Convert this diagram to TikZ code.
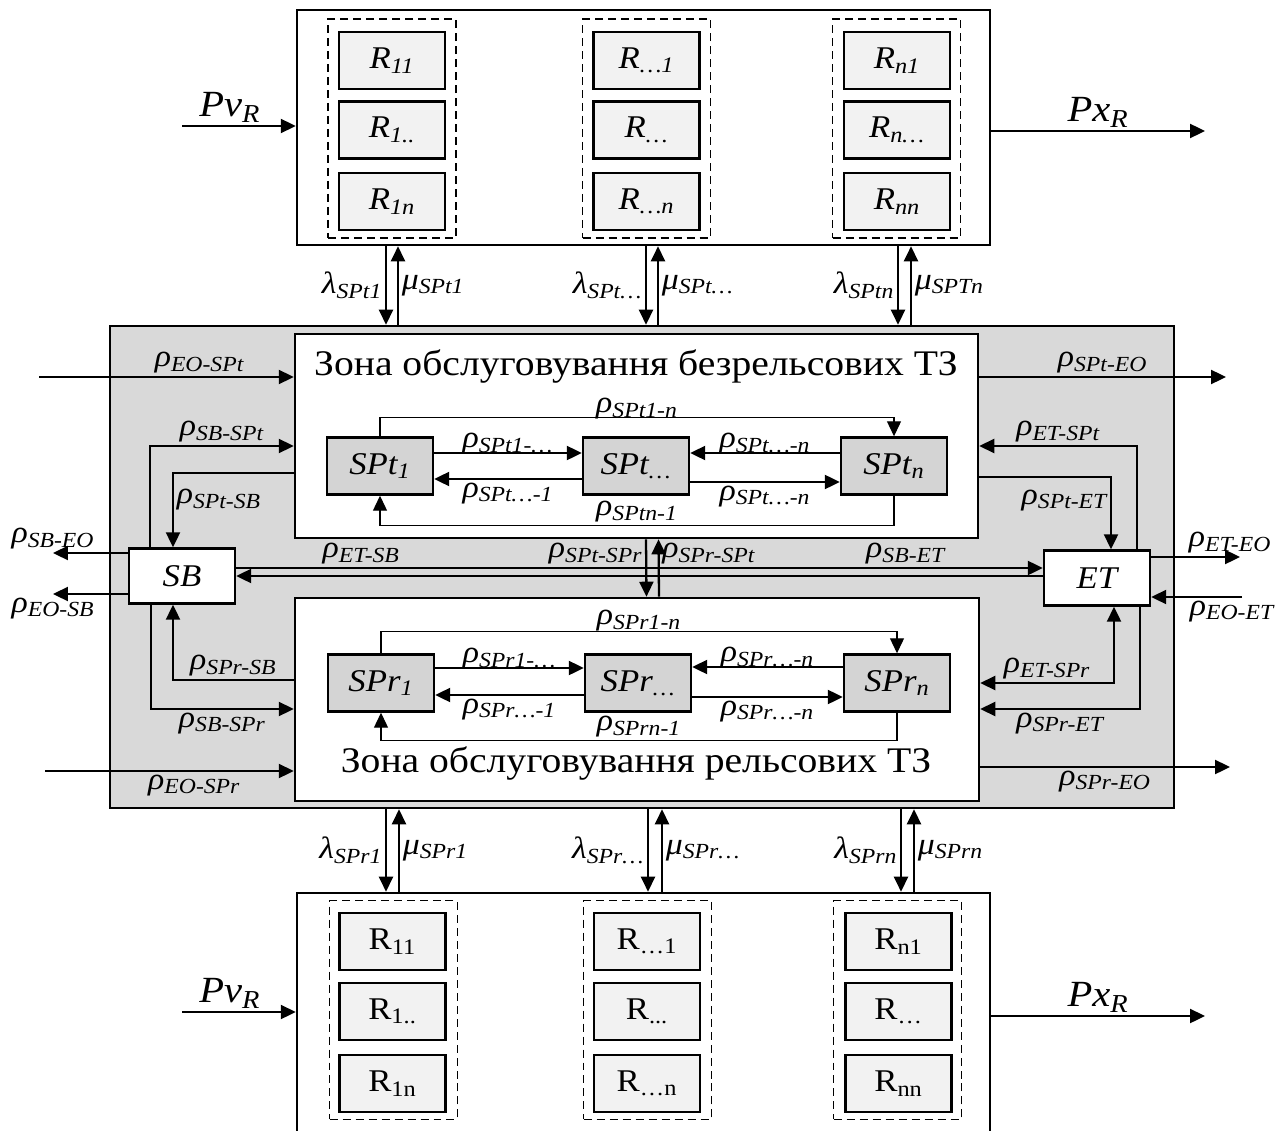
\documentclass[tikz,border=0pt]{standalone}
\usepackage{fontspec}
\setmainfont{Liberation Serif}[FakeStretch=1.1]
\usetikzlibrary{arrows.meta,calc}

\newcommand{\rsub}[1]{ρ\textsubscript{#1}}
\newcommand{\lsub}[1]{λ\textsubscript{#1}}
\newcommand{\msub}[1]{μ\textsubscript{#1}}

\begin{document}
\begin{tikzpicture}[x=0.02cm,y=-0.02cm,
  frame/.style={draw,line width=1.5pt,inner sep=0pt},
  rt/.style={draw,line width=1.4pt,fill=black!5,inner sep=0pt,
             minimum width=2.12cm,minimum height=1.14cm,
             font=\fontsize{18}{21}\selectfont\itshape},
  rb/.style={rt,font=\fontsize{18}{21}\selectfont},
  spbox/.style={rt,fill=black!17},
  unit/.style={rt,fill=white,minimum height=1.1cm},
  col/.style={draw,line width=0.8pt,dash pattern=on 1.6mm off 1mm,
              minimum width=2.56cm,minimum height=4.38cm},
  ev/.style={-{Triangle[length=3mm,width=2.8mm]},line width=1.3pt},
  evb/.style={ev,{Triangle[length=3mm,width=2.8mm]}-{Triangle[length=3mm,width=2.8mm]}},
  thin/.style={ev,line width=0.7pt},
  lab/.style={font=\fontsize{17.5}{20}\selectfont\itshape,inner sep=1.5pt},
  pv/.style={lab,font=\fontsize{21}{24}\selectfont\itshape},
  big/.style={font=\fontsize{20.5}{24}\selectfont}]

  \useasboundingbox (0,0) rectangle (1283,1131);

  % service area
  \node[frame,fill=black!15,minimum width=21.28cm,minimum height=9.64cm] (mid) at (642,567) {};
  \node[frame,fill=white,minimum width=13.66cm,minimum height=4.08cm] (inT) at (636.5,436) {};
  \node[frame,fill=white,minimum width=13.68cm,minimum height=4.06cm] (inR) at (637,699.5) {};
  \node[big] (titT) at (636,366) {Зона обслуговування безрельсових ТЗ};
  \node[big] (titR) at (636,763) {Зона обслуговування рельсових ТЗ};

  \node[spbox] (SPt1) at (380,466) {SPt\textsubscript{1}};
  \node[spbox] (SPtm) at (636,466) {SPt\textsubscript{…}};
  \node[spbox] (SPtn) at (894,466) {SPt\textsubscript{n}};
  \node[spbox] (SPr1) at (381,683) {SPr\textsubscript{1}};
  \node[spbox] (SPrm) at (638,683) {SPr\textsubscript{…}};
  \node[spbox] (SPrn) at (897,683) {SPr\textsubscript{n}};
  \node[unit] (SB) at (182,576) {SB};
  \node[unit] (ET) at (1097,578) {ET};

  % flows inside the wheeled zone
  \draw[thin] (SPt1.north) -- ++(0,-19) -| (SPtn.north)
     node[lab,above,pos=0.25,yshift=-0.1cm] (a1) {\rsub{SPt1-n}};
  \draw[ev] ([yshift=0.26cm]SPt1.east) -- ([yshift=0.26cm]SPtm.west)
     node[lab,above,midway,yshift=-0.1cm] (a2) {\rsub{SPt1-…}};
  \draw[ev] ([yshift=-0.26cm]SPtm.west) -- ([yshift=-0.26cm]SPt1.east)
     node[lab,below,midway] (a3) {\rsub{SPt…-1}};
  \draw[ev] ([yshift=0.26cm]SPtn.west) -- ([yshift=0.26cm]SPtm.east)
     node[lab,above,midway,yshift=-0.1cm] (a4) {\rsub{SPt…-n}};
  \draw[ev] ([yshift=-0.32cm]SPtm.east) -- ([yshift=-0.32cm]SPtn.west)
     node[lab,below,midway] (a5) {\rsub{SPt…-n}};
  \draw[thin] (SPtn.south) -- ++(0,30) -| (SPt1.south)
     node[lab,above,pos=0.25] (a6) {\rsub{SPtn-1}};

  % flows inside the rail zone
  \draw[thin] (SPr1.north) -- ++(0,-22) -| (SPrn.north)
     node[lab,above,pos=0.25,yshift=-0.06cm] (b1) {\rsub{SPr1-n}};
  \draw[ev] ([yshift=0.3cm]SPr1.east) -- ([yshift=0.3cm]SPrm.west)
     node[lab,above,midway,yshift=-0.1cm] (b2) {\rsub{SPr1-…}};
  \draw[ev] ([yshift=-0.24cm]SPrm.west) -- ([yshift=-0.24cm]SPr1.east)
     node[lab,below,midway] (b3) {\rsub{SPr…-1}};
  \draw[ev] ([yshift=0.32cm]SPrn.west) -- ([yshift=0.32cm]SPrm.east)
     node[lab,above,midway,yshift=-0.1cm] (b4) {\rsub{SPr…-n}};
  \draw[ev] ([yshift=-0.28cm]SPrm.east) -- ([yshift=-0.28cm]SPrn.west)
     node[lab,below,midway] (b5) {\rsub{SPr…-n}};
  \draw[thin] (SPrn.south) -- ++(0,28) -| (SPr1.south)
     node[lab,above,pos=0.25] (b6) {\rsub{SPrn-1}};

  % left side
  \coordinate (eoA) at (39,377);
  \coordinate (eoB) at (45,771);
  \coordinate (sbeo) at (53,553);
  \coordinate (eosb) at (53,594);
  \draw[ev] (eoA) -- (eoA -| inT.west)
     node[lab,above,pos=0.63] (l1) {\rsub{EO-SPt}};
  \draw[ev] ([xshift=-0.64cm]SB.north) |- ([yshift=-0.2cm]inT.west)
     node[lab,above,pos=0.75] (l2) {\rsub{SB-SPt}};
  \draw[ev] ([yshift=-0.74cm]inT.west) -| ([xshift=-0.18cm]SB.north)
     node[lab,right,pos=0.68] (l3) {\rsub{SPt-SB}};
  \draw[ev] (sbeo -| SB.west) -- (sbeo) node[lab,above] (l4) {\rsub{SB-EO}};
  \draw[ev] (eosb -| SB.west) -- (eosb) node[lab,below] (l5) {\rsub{EO-SB}};
  \draw[ev] ([xshift=-0.62cm]SB.south) |- ([yshift=-0.19cm]inR.west)
     node[lab,below,pos=0.75] (l6) {\rsub{SB-SPr}};
  \draw[ev] ([yshift=0.39cm]inR.west) -| ([xshift=-0.18cm]SB.south)
     node[lab,above,pos=0.25] (l7) {\rsub{SPr-SB}};
  \draw[ev] (eoB) -- (eoB -| inR.west)
     node[lab,below,pos=0.6] (l8) {\rsub{EO-SPr}};

  % between SB and ET
  \coordinate (sbet) at (0,568);
  \coordinate (etsb) at (0,576);
  \draw[ev] (sbet -| SB.east) -- (sbet -| ET.west)
     node[lab,above,pos=0.155] (m1) {\rsub{ET-SB}}
     node[lab,above,pos=0.83] (m2) {\rsub{SB-ET}};
  \draw[ev] (etsb -| ET.west) -- (etsb -| SB.east);
  \draw[ev] ([xshift=0.19cm]inT.south) -- ([xshift=0.19cm]inR.north)
     node[lab,left,pos=0.25] (m3) {\rsub{SPt-SPr}};
  \draw[ev] ([xshift=0.44cm]inR.north) -- ([xshift=0.44cm]inT.south)
     node[lab,right,pos=0.75] (m4) {\rsub{SPr-SPt}};

  % right side
  \coordinate (eoC) at (1226,377);
  \coordinate (eoD) at (1240,557);
  \coordinate (eoE) at (1242,597);
  \coordinate (eoF) at (1230,767);
  \draw[ev] (eoC -| inT.east) -- (eoC)
     node[lab,above,midway] (r1) {\rsub{SPt-EO}};
  \draw[ev] ([xshift=0.8cm]ET.north) |- ([yshift=-0.2cm]inT.east)
     node[lab,above,pos=0.75] (r2) {\rsub{ET-SPt}};
  \draw[ev] ([yshift=-0.82cm]inT.east) -| ([xshift=0.28cm]ET.north)
     node[lab,left,pos=0.66] (r3) {\rsub{SPt-ET}};
  \draw[ev] (eoD -| ET.east) -- (eoD)
     node[lab,above,xshift=-0.2cm] (r4) {\rsub{ET-EO}};
  \draw[ev] (eoE) node[lab,below,xshift=-0.2cm] (r5) {\rsub{EO-ET}}
     -- (eoE -| ET.east);
  \draw[evb] ([xshift=0.34cm]ET.south) |- ([yshift=0.33cm]inR.east)
     node[lab,above,pos=0.75] (r6) {\rsub{ET-SPr}};
  \draw[ev] ([xshift=0.86cm]ET.south) |- ([yshift=-0.19cm]inR.east)
     node[lab,below,pos=0.75] (r7) {\rsub{SPr-ET}};
  \draw[ev] (eoF -| inR.east) -- (eoF)
     node[lab,below,midway] (r8) {\rsub{SPr-EO}};

  % resources of the wheeled zone
  \node[frame,minimum width=13.86cm,minimum height=4.7cm] (topR) at (643.5,127.5) {};
  \node[col] (ct1) at (392,128.5) {};
  \node[col] (ct2) at (646.5,128.5) {};
  \node[col] (ct3) at (896.5,128.5) {};
  \node[rt] (t11) at (392,60.5) {R\textsubscript{11}};
  \node[rt] (t12) at (392,130) {R\textsubscript{1..}};
  \node[rt] (t13) at (392,201.5) {R\textsubscript{1n}};
  \node[rt] (t21) at (646.5,60.5) {R\textsubscript{…1}};
  \node[rt] (t22) at (646.5,130) {R\textsubscript{…}};
  \node[rt] (t23) at (646.5,201.5) {R\textsubscript{…n}};
  \node[rt] (t31) at (897,60.5) {R\textsubscript{n1}};
  \node[rt] (t32) at (897,130) {R\textsubscript{n…}};
  \node[rt] (t33) at (897,201.5) {R\textsubscript{nn}};
  \coordinate (pvT) at (182,126);
  \coordinate (pxT) at (1205,131);
  \draw[ev] (pvT) -- (pvT -| topR.west)
     node[pv,above,pos=0.42] (pv1) {Pv\textsubscript{R}};
  \draw[ev] (pxT -| topR.east) -- (pxT)
     node[pv,above,midway] (px1) {Px\textsubscript{R}};
  \foreach \i/\xd/\xu/\lsb/\msb in {1/386/398/SPt1/SPt1, 2/646/658/SPt…/SPt…, 3/898/911/SPtn/SPTn}{
    \coordinate (dt\i) at (\xd,0);
    \coordinate (ut\i) at (\xu,0);
    \draw[ev] (dt\i |- topR.south) -- (dt\i |- mid.north)
       node[lab,left,midway] (lt\i) {\lsub{\lsb}};
    \draw[ev] (ut\i |- mid.north) -- (ut\i |- topR.south)
       node[lab,right,midway] (mt\i) {\msub{\msb}};
  }

  % resources of the rail zone
  \node[frame,minimum width=13.86cm,minimum height=5.14cm] (botR) at (643.5,1021.5) {};
  \node[col] (cb1) at (393.5,1010) {};
  \node[col] (cb2) at (647.5,1010) {};
  \node[col] (cb3) at (897.5,1010) {};
  \node[rb] (b11) at (392.5,941.5) {R\textsubscript{11}};
  \node[rb] (b12) at (392.5,1011.5) {R\textsubscript{1..}};
  \node[rb] (b13) at (392.5,1083.5) {R\textsubscript{1n}};
  \node[rb] (b21) at (647,941.5) {R\textsubscript{…1}};
  \node[rb] (b22) at (647,1011.5) {R\textsubscript{...}};
  \node[rb] (b23) at (647,1083.5) {R\textsubscript{…n}};
  \node[rb] (b31) at (898.5,941.5) {R\textsubscript{n1}};
  \node[rb] (b32) at (898.5,1011.5) {R\textsubscript{…}};
  \node[rb] (b33) at (898.5,1083.5) {R\textsubscript{nn}};
  \coordinate (pvB) at (182,1012);
  \coordinate (pxB) at (1205,1016);
  \draw[ev] (pvB) -- (pvB -| botR.west)
     node[pv,above,pos=0.42] (pv2) {Pv\textsubscript{R}};
  \draw[ev] (pxB -| botR.east) -- (pxB)
     node[pv,above,midway] (px2) {Px\textsubscript{R}};
  \foreach \i/\xd/\xu/\lsb/\msb in {1/386/399/SPr1/SPr1, 2/648/662/SPr…/SPr…, 3/901/914/SPrn/SPrn}{
    \coordinate (db\i) at (\xd,0);
    \coordinate (ub\i) at (\xu,0);
    \draw[ev] (db\i |- mid.south) -- (db\i |- botR.north)
       node[lab,left,midway] (lb\i) {\lsub{\lsb}};
    \draw[ev] (ub\i |- botR.north) -- (ub\i |- mid.south)
       node[lab,right,midway] (mb\i) {\msub{\msb}};
  }
\end{tikzpicture}
\end{document}
